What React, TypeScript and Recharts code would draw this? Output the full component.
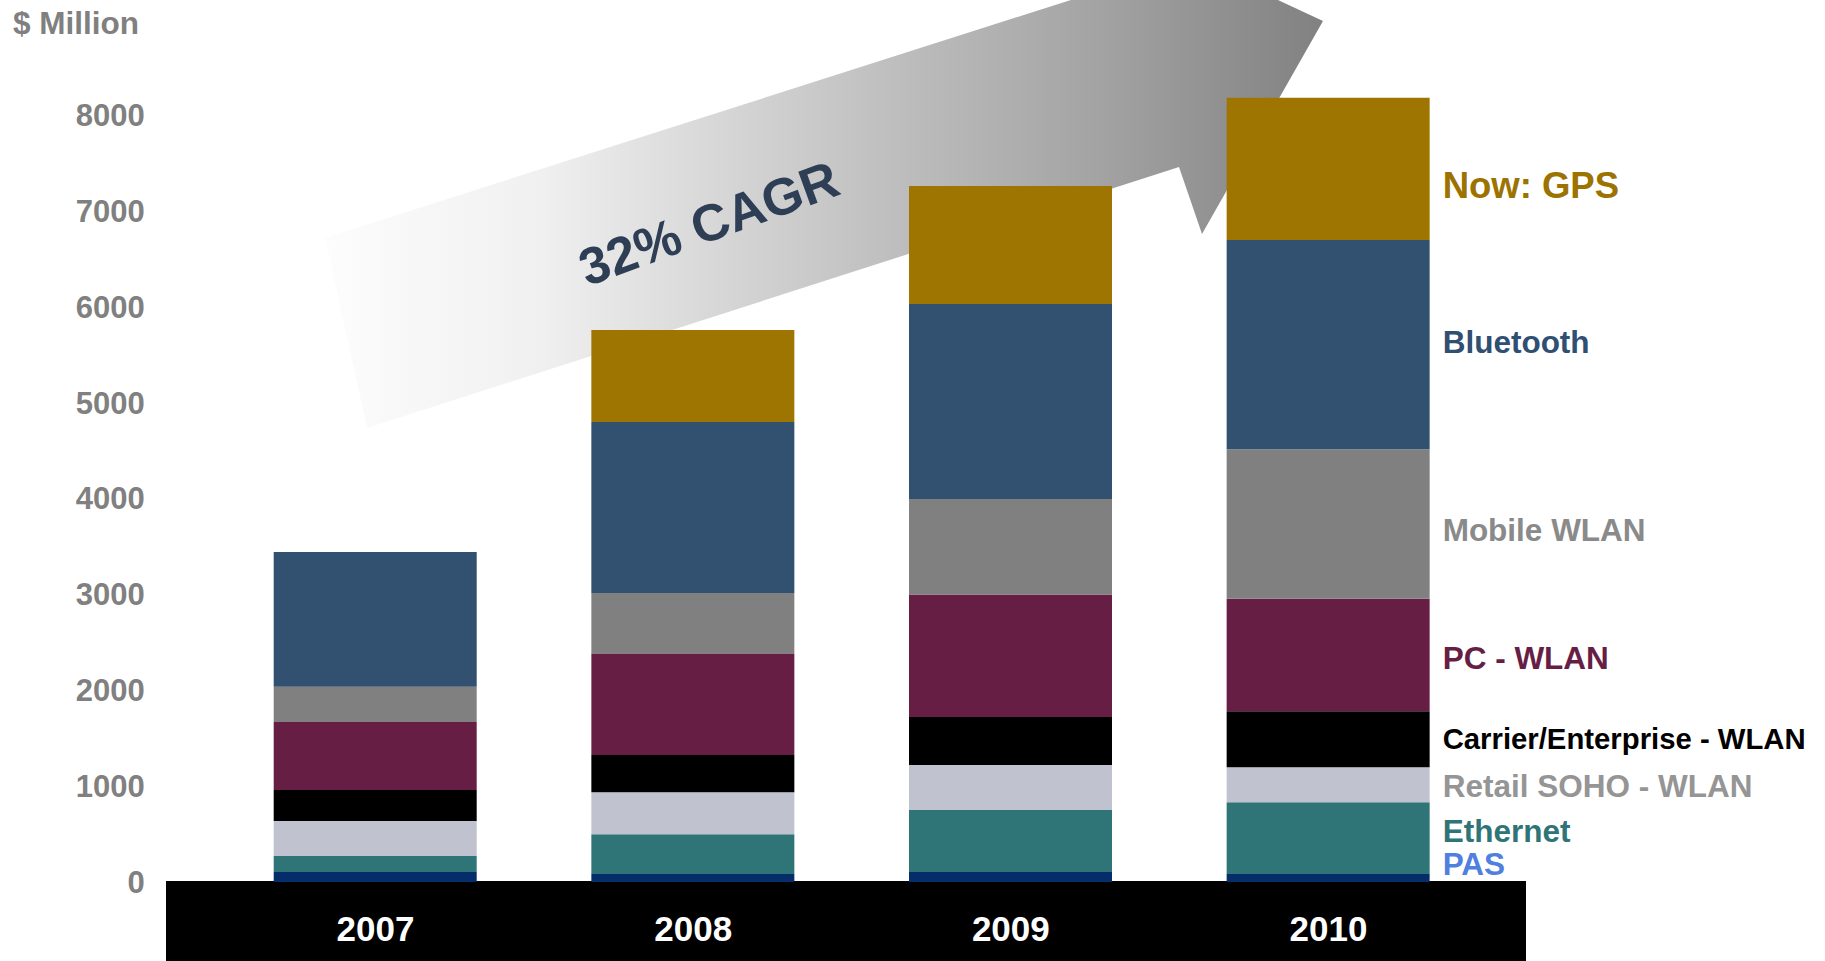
import React from 'react';
import { BarChart, Bar, XAxis, YAxis, LabelList } from 'recharts';

// ---- data (values in $ Million) ----
const years = ['2007', '2008', '2009', '2010'];
const pas = [104, 83, 104, 84];
const ethernet = [167, 416, 647, 747];
const retailSoho = [365, 438, 469, 366];
const carrier = [324, 388, 501, 583];
const pcWlan = [709, 1053, 1278, 1174];
const mobileWlan = [368, 637, 996, 1560];
const bluetooth = [1405, 1783, 2034, 2182];
const gps = [0, 959, 1230, 1484];
const yTicks = [0, 1000, 2000, 3000, 4000, 5000, 6000, 7000, 8000];
const unitLabel = '$ Million';
const cagrLabel = '32% CAGR';

const FONT = '"Liberation Sans", Arial, Helvetica, sans-serif';

const series = [
  { key: 'pas', name: 'PAS', values: pas, fill: '#042D6A', labelColor: '#4F7FDF', size: 31.5, dy: -14 },
  { key: 'ethernet', name: 'Ethernet', values: ethernet, fill: '#2F7577', labelColor: '#2F7577', size: 31.5, dy: -7 },
  { key: 'retail', name: 'Retail SOHO - WLAN', values: retailSoho, fill: '#C0C3CF', labelColor: '#959595', size: 31.5, dy: 0.5 },
  { key: 'carrier', name: 'Carrier/Enterprise - WLAN', values: carrier, fill: '#000000', labelColor: '#000000', size: 29.3, dy: -0.7 },
  { key: 'pc', name: 'PC - WLAN', values: pcWlan, fill: '#671E44', labelColor: '#671E44', size: 31.5, dy: 2.8 },
  { key: 'mobile', name: 'Mobile WLAN', values: mobileWlan, fill: '#808080', labelColor: '#8A8A8A', size: 31.5, dy: 5.4 },
  { key: 'bluetooth', name: 'Bluetooth', values: bluetooth, fill: '#32506F', labelColor: '#2F4F73', size: 31.5, dy: -3 },
  { key: 'gps', name: 'Now: GPS', values: gps, fill: '#9E7500', labelColor: '#9C7200', size: 36.5, dy: 16.5 },
];

const data = years.map((year, i) => {
  const row: Record<string, any> = { year };
  series.forEach((s) => {
    row[s.key] = s.values[i];
  });
  return row;
});

const YearTick = (props: any) => {
  const { x, y, payload } = props;
  return (
    <text x={x} y={y + 59} textAnchor="middle" fill="#FFFFFF" fontSize={35} fontWeight="bold" fontFamily={FONT}>
      {payload.value}
    </text>
  );
};

const ValueTick = (props: any) => {
  const { x, y, payload } = props;
  return (
    <text x={x} y={y + 11} textAnchor="end" fill="#808080" fontSize={31} fontWeight="bold" fontFamily={FONT}>
      {payload.value}
    </text>
  );
};

const makeSeriesLabel = (s: any) => (props: any) => {
  const vb = props.viewBox && props.viewBox.width !== undefined ? props.viewBox : props;
  const { x, y, width, height } = vb;
  const lastValue = s.values[years.length - 1];
  if (Number(props.value) !== lastValue) return null;
  const cy = Number(y) + Number(height) / 2 + s.dy + 0.358 * s.size;
  return (
    <text x={Number(x) + Number(width) + 13} y={cy} fill={s.labelColor} fontSize={s.size} fontWeight="bold" fontFamily={FONT}>
      {s.name}
    </text>
  );
};

const Backdrop = () => (
  <svg width={1825} height={961} style={{ position: 'absolute', left: 0, top: 0 }}>
    <defs>
      <linearGradient id="arrowGrad" gradientUnits="userSpaceOnUse" x1={320} y1={0} x2={1330} y2={0}>
        <stop offset="0" stopColor="#FDFDFD" />
        <stop offset="0.218" stopColor="#F0F0F0" />
        <stop offset="0.554" stopColor="#C0C0C0" />
        <stop offset="0.772" stopColor="#A3A3A3" />
        <stop offset="1" stopColor="#808080" />
      </linearGradient>
    </defs>
    <polygon
      points="367,428 1179,167 1202,234 1323,21 1100,-83 1121,-16 325,238"
      fill="url(#arrowGrad)"
    />
    <text
      x={715}
      y={240}
      textAnchor="middle"
      fill="#2D3E55"
      fontSize={52}
      fontWeight="bold"
      fontFamily={FONT}
      transform="rotate(-20 715 240)"
    >
      {cagrLabel}
    </text>
    <rect x={166} y={881} width={1360} height={80} fill="#000000" />
    <text x={13} y={34} fill="#808080" fontSize={31.5} fontWeight="bold" fontFamily={FONT}>
      {unitLabel}
    </text>
  </svg>
);

export default function App() {
  return (
    <div style={{ position: 'absolute', left: 0, top: 0, width: 1825, height: 961, background: '#FFFFFF', overflow: 'hidden' }}>
      <Backdrop />
      <div style={{ position: 'absolute', left: 0, top: 0 }}>
        <BarChart
          width={1825}
          height={961}
          data={data}
          margin={{ top: 19.1, right: 337.7, bottom: 0, left: 0 }}
          barSize={203}
        >
          <XAxis
            dataKey="year"
            height={79}
            axisLine={false}
            tickLine={false}
            tickSize={0}
            tickMargin={0}
            interval={0}
            tick={YearTick}
          />
          <YAxis
            type="number"
            domain={[0, 9000]}
            ticks={yTicks}
            width={216.7}
            axisLine={false}
            tickLine={false}
            tickSize={0}
            tickMargin={72}
            interval={0}
            tick={ValueTick}
          />
          {series.map((s) => (
            <Bar key={s.key} dataKey={s.key} name={s.name} stackId="a" fill={s.fill} isAnimationActive={false}>
              <LabelList dataKey={s.key} content={makeSeriesLabel(s)} />
            </Bar>
          ))}
        </BarChart>
      </div>
    </div>
  );
}
